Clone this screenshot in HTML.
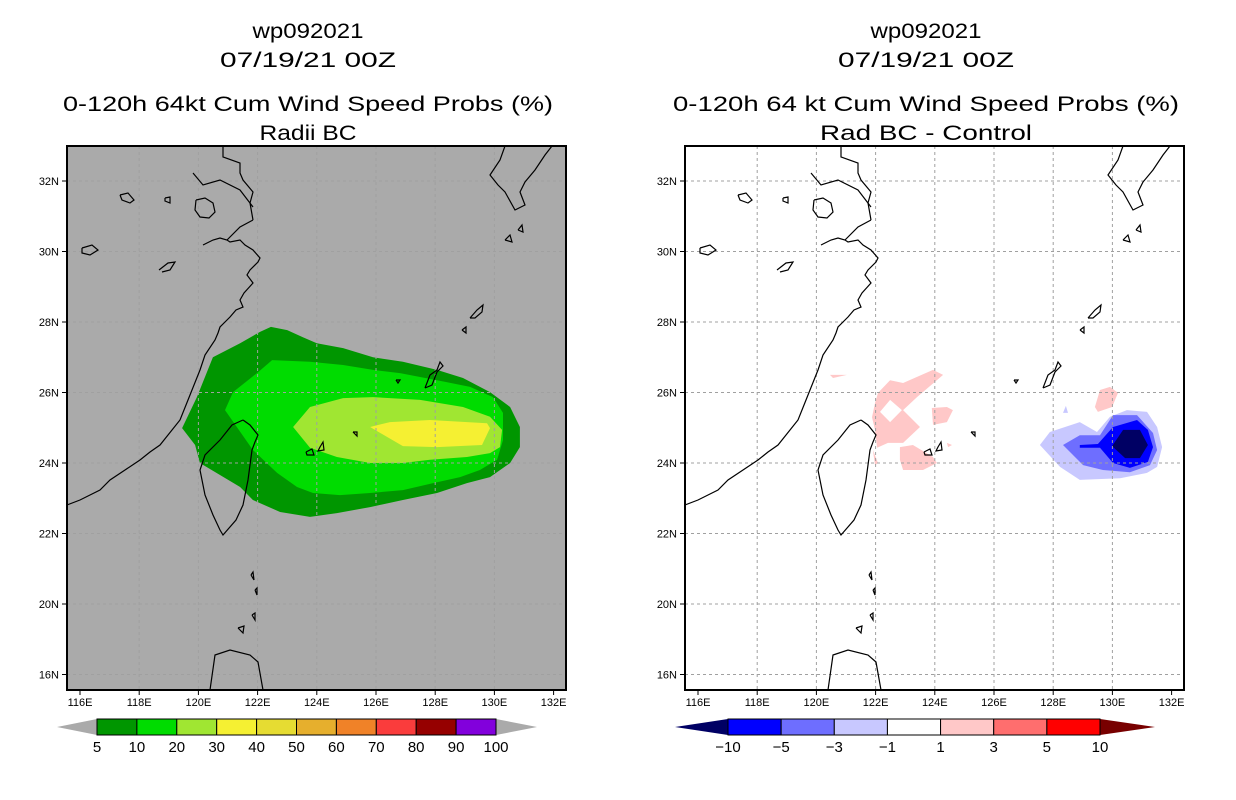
<!DOCTYPE html>
<html><head><meta charset="utf-8"><style>
html,body{margin:0;padding:0;background:#fff;}
svg{display:block;}
text{font-family:"Liberation Sans",sans-serif;}
</style></head><body>
<svg id="chart" width="1236" height="800" viewBox="0 0 1236 800" xmlns="http://www.w3.org/2000/svg">
<rect width="1236" height="800" fill="#fff"/>
<defs>
<clipPath id="clipL"><rect x="67" y="146" width="499" height="544"/></clipPath>
<clipPath id="clipR"><rect x="685" y="146" width="499" height="544"/></clipPath>
<g id="coast" fill="none" stroke="#000" stroke-width="1.2">
<polyline points="67,505 80,500 90,495 100,490 110,480 125,470 140,460 150,452 160,445 172,430 180,420 186,405 190,395 196,380 200,370 205,355 215,340 218,333 220,327 225,322 230,317 236,310 243,307 240,300 244,293 253,283 247,275 250,270 258,262 260,258 253,250 245,245 240,240 230,242 227,240 220,238 213,240 203,245"/>
<polyline points="253,220 240,227 227,240"/>
<polyline points="253,220 250,203 253,192 243,180 240,173 240,163 223,157 223,147"/>
<polyline points="193,173 203,185 220,180 240,190 253,207"/>
<polyline points="196,200 205,198 213,203 215,212 209,218 200,217 195,210 196,200"/>
<polyline points="120,195 128,193 134,200 130,203 122,200 120,195"/>
<polyline points="165,198 170,197 170,203 165,201 165,198"/>
<polyline points="82,248 92,245 98,250 90,255 82,253 82,248"/>
<polyline points="159,270 168,263 175,262 170,270 162,272"/>
<polyline points="243,420 250,425 258,435 255,442 252,450 248,480 243,505 236,520 223,535 220,530 213,515 205,495 200,470 205,455 220,440 232,425 243,420"/>
<polyline points="425,388 430,375 437,370 440,362 443,366 437,372 432,385 425,388"/>
<polyline points="470,318 477,310 483,305 482,312 475,318 470,318"/>
<polyline points="462,330 466,327 466,333 462,330"/>
<polyline points="396,380 400,380 398,383 396,380"/>
<polyline points="353,432 357,432 357,436 353,432"/>
<polyline points="306,452 312,449 314,455 307,455 306,452"/>
<polyline points="320,447 323,442 324,450 318,451 320,447"/>
<polyline points="505,146 500,160 490,175 498,185 505,192 515,210 525,205 520,192 525,182 535,170 545,155 552,146"/>
<polyline points="505,240 510,235 512,242 505,240"/>
<polyline points="518,230 522,225 523,232 518,230"/>
<polyline points="210,690 215,655 230,650 250,655 258,662 263,690"/>
<polyline points="238,628 244,626 243,633 238,628"/>
<polyline points="252,615 255,613 255,620 252,615"/>
<polyline points="251,575 253,572 254,580 251,575"/>
<polyline points="255,590 257,588 257,595 255,590"/>
</g>
</defs>
<g id="titles" font-size="21" text-anchor="middle" fill="#000" lengthAdjust="spacingAndGlyphs">
<text x="308" y="38" textLength="111" lengthAdjust="spacingAndGlyphs">wp092021</text>
<text x="308" y="67" textLength="176" lengthAdjust="spacingAndGlyphs">07/19/21 00Z</text>
<text x="308" y="111" textLength="490" lengthAdjust="spacingAndGlyphs">0-120h 64kt Cum Wind Speed Probs (%)</text>
<text x="308" y="140" textLength="97" lengthAdjust="spacingAndGlyphs">Radii BC</text>
<text x="926" y="38" textLength="111" lengthAdjust="spacingAndGlyphs">wp092021</text>
<text x="926" y="67" textLength="176" lengthAdjust="spacingAndGlyphs">07/19/21 00Z</text>
<text x="926" y="111" textLength="506" lengthAdjust="spacingAndGlyphs">0-120h 64 kt Cum Wind Speed Probs (%)</text>
<text x="926" y="140" textLength="212" lengthAdjust="spacingAndGlyphs">Rad BC - Control</text>
</g>
<g id="left-panel"></g>
<g id="right-panel"></g>
<g id="cbars"></g>
</svg>
<script>
const leftLevels = ["5", "10", "20", "30", "40", "50", "60", "70", "80", "90", "100"];
const leftColors = ["#009600","#00dc00","#a0e632","#f5f032","#e6dc32","#e6af2d","#f08228","#fa3c3c","#960000","#8200dc"];
const prob05Lon = [122.45,123.0,123.53,124.0,124.89,125.9,126.91,128.06,128.94,129.85,130.53,130.86,130.86,130.53,129.85,129.07,128.06,126.91,125.8,124.68,123.77,122.76,121.84,121.41,120.05,119.89,119.45,119.95,120.49,121.41,122.08];
const prob05Lat = [27.86,27.77,27.57,27.40,27.26,27.0,26.87,26.64,26.41,26.01,25.59,25.02,24.45,24.0,23.6,23.43,23.15,22.95,22.75,22.58,22.47,22.61,22.95,23.32,24.0,24.51,24.99,25.87,27.0,27.40,27.72];
const prob10Lon = [122.49,123.77,124.89,125.9,126.81,128.06,129.18,129.95,130.29,130.29,130.09,129.51,128.84,127.93,126.91,125.8,124.78,123.87,123.33,122.66,121.84,120.9,121.17,121.98];
const prob10Lat = [26.92,26.87,26.78,26.64,26.55,26.35,26.16,25.87,25.42,24.65,24.09,23.8,23.6,23.43,23.23,23.15,23.09,23.15,23.32,23.72,24.37,25.5,26.01,26.55];
const prob20Lon = [123.2,123.77,124.89,125.9,127.49,128.94,129.85,130.26,130.19,129.85,129.07,127.82,126.91,125.8,124.68,123.77];
const prob20Lat = [25.02,25.59,25.84,25.87,25.79,25.59,25.31,24.94,24.45,24.28,24.17,24.09,24.0,24.0,24.17,24.43];
const prob30Lon = [125.8,126.47,127.82,129.75,129.85,129.58,128.06,126.91,126.37];
const prob30Lat = [25.02,25.16,25.22,25.13,24.99,24.51,24.45,24.48,24.74];

const diffLevels = ["-10","-5","-3","-1","1","3","5","10"];
const diffColors = ["#000064","#0000ff","#6e6eff","#c8c8ff","#ffffff","#ffc8c8","#ff6e6e","#ff0000","#780000"];
const neg1Lon = [127.55,127.89,128.9,129.48,129.92,130.49,131.17,131.51,131.68,131.51,131.17,130.26,128.9,128.23];
const neg1Lat = [24.51,24.88,25.16,24.88,25.31,25.5,25.45,25.02,24.45,23.89,23.72,23.57,23.52,23.89];
const neg1bLon = [128.33,128.43,128.5];
const neg1bLat = [25.42,25.62,25.42];
const neg3Lon = [128.33,128.9,129.58,130.02,130.83,131.37,131.51,131.27,130.59,129.68,129.01];
const neg3Lat = [24.51,24.79,24.79,25.36,25.36,24.85,24.37,23.94,23.74,23.8,23.94];
const neg5Lon = [128.9,129.51,130.02,130.83,131.2,131.37,131.2,130.59,130.02,129.58,128.9];
const neg5Lat = [24.51,24.54,25.02,25.22,24.94,24.45,24.03,23.86,24.0,24.43,24.43];
const neg10Lon = [129.99,130.36,130.93,131.2,130.93,130.43];
const neg10Lat = [24.48,24.94,24.94,24.51,24.14,24.14];
const pos1aLon = [129.41,129.58,129.92,130.19,129.99,129.51];
const pos1aLat = [25.59,26.07,26.16,25.99,25.59,25.45];
const pos1bLon = [122.08,122.49,122.93,123.94,124.28,123.4,122.93,123.5,122.93,122.42,122.05,121.98,121.88,121.98];
const pos1bLat = [25.99,26.35,26.27,26.64,26.5,25.87,25.5,25.02,24.57,24.57,24.43,24.94,25.3,25.7];
const hole1Lon = [122.15,122.49,122.89,122.49];
const hole1Lat = [25.45,25.79,25.5,25.16];
const pos1cLon = [122.82,123.26,123.94,124.07,123.6,122.93,122.82];
const pos1cLat = [24.45,24.51,24.17,24.0,23.8,23.8,24.09];
const pos1dLon = [123.9,124.41,124.61,124.41,123.94];
const pos1dLat = [25.56,25.59,25.5,25.16,25.08];
const pos1eLon = [124.41,124.58,124.45];
const pos1eLat = [24.57,24.51,24.45];
const pos1fLon = [120.46,121.03,120.56];
const pos1fLat = [26.5,26.5,26.41];
const pos1gLon = [121.91,122.08,121.98];
const pos1gLat = [24.37,24.0,23.94];

const lonTicks = [116,118,120,122,124,126,128,130,132];
const latTicks = [32,30,28,26,24,22,20,18];
const latTickLabels = ["32N","30N","28N","26N","24N","22N","20N","16N"];

const NS="http://www.w3.org/2000/svg";
function xScale(lon, off){ return off + 80 + (lon-116)*29.6; }
function yScale(lat){ return 181 + (32-lat)*35.25; }
function mk(tag, attrs, parent){ const e=document.createElementNS(NS,tag); for(const k in attrs) e.setAttribute(k,attrs[k]); parent.appendChild(e); return e; }
function poly(parent, lons, lats, off, fill, name){
  const pts = lons.map((l,i)=>xScale(l,off).toFixed(1)+","+yScale(lats[i]).toFixed(1)).join(" ");
  const p = mk("polygon",{points:pts,fill:fill,stroke:"none"},parent);
  
  
  return p;
}
function panel(g, off, bg, clip){
  const inner = mk("g",{"clip-path":"url(#"+clip+")"},g);
  mk("rect",{x:off+67,y:146,width:499,height:544,fill:bg},inner);
  return inner;
}
function gridAndAxes(g, inner, off){
  const grid = mk("g",{stroke:"#a0a0a0","stroke-width":1,"stroke-dasharray":"3,3"},inner);
  lonTicks.forEach(l=>{ if(l>116&&l<132){ const x=xScale(l,off); mk("line",{x1:x,x2:x,y1:146,y2:690},grid);} });
  latTicks.forEach(l=>{ const y=yScale(l); mk("line",{x1:off+67,x2:off+566,y1:y,y2:y},grid); });
  mk("use",{href:"#coast",transform:"translate("+off+",0)"},inner);
  const fr = mk("rect",{x:off+67,y:146,width:499,height:544,fill:"none",stroke:"#000","stroke-width":2},g);
  
  
  lonTicks.forEach(l=>{
    const x=xScale(l,off);
    mk("line",{x1:x,x2:x,y1:690,y2:695,stroke:"#000"},g);
    const t=mk("text",{x:x,y:706,"font-size":11,"text-anchor":"middle"},g);
    t.textContent=l+"E";
    
    
  });
  latTicks.forEach((l,i)=>{
    const y=yScale(l);
    mk("line",{x1:off+62,x2:off+67,y1:y,y2:y,stroke:"#000"},g);
    const t=mk("text",{x:off+59,y:y+4,"font-size":11,"text-anchor":"end"},g);
    t.textContent=latTickLabels[i];
    
    
  });
}
const gL=document.getElementById("left-panel");
const iL=panel(gL,0,"#aaaaaa","clipL");
poly(iL,prob05Lon,prob05Lat,0,leftColors[0],"prob-5-contour");
poly(iL,prob10Lon,prob10Lat,0,leftColors[1],"prob-10-contour");
poly(iL,prob20Lon,prob20Lat,0,leftColors[2],"prob-20-contour");
poly(iL,prob30Lon,prob30Lat,0,leftColors[3],"prob-30-contour");
gridAndAxes(gL,iL,0);
const gR=document.getElementById("right-panel");
const iR=panel(gR,618,"#ffffff","clipR");
poly(iR,neg1Lon,neg1Lat,618,diffColors[3],"diff-minus1-contour");
poly(iR,neg1bLon,neg1bLat,618,diffColors[3],"diff-minus1-speck");
poly(iR,neg3Lon,neg3Lat,618,diffColors[2],"diff-minus3-contour");
poly(iR,neg5Lon,neg5Lat,618,diffColors[1],"diff-minus5-contour");
poly(iR,neg10Lon,neg10Lat,618,diffColors[0],"diff-minus10-contour");
poly(iR,pos1aLon,pos1aLat,618,diffColors[5],"diff-plus1-east");
poly(iR,pos1bLon,pos1bLat,618,diffColors[5],"diff-plus1-west");
poly(iR,hole1Lon,hole1Lat,618,"#ffffff","diff-plus1-hole");
poly(iR,pos1cLon,pos1cLat,618,diffColors[5],"diff-plus1-south");
poly(iR,pos1dLon,pos1dLat,618,diffColors[5],"diff-plus1-mid");
poly(iR,pos1eLon,pos1eLat,618,diffColors[5],"diff-plus1-speck");
poly(iR,pos1fLon,pos1fLat,618,diffColors[5],"diff-plus1-streak");
poly(iR,pos1gLon,pos1gLat,618,diffColors[5],"diff-plus1-thin");
gridAndAxes(gR,iR,618);
const cb=document.getElementById("cbars");
function colorbar(name, x0, x1, tipL, tipR, colors, labels, triL, triR){
  const g=mk("g",{},cb);
  
  
  const nb=colors.length;
  const w=(x1-x0)/nb;
  mk("polygon",{points:`${tipL},727 ${x0},719 ${x0},735`,fill:triL,stroke:"none"},g);
  mk("polygon",{points:`${tipR},727 ${x1},719 ${x1},735`,fill:triR,stroke:"none"},g);
  colors.forEach((c,i)=>{
    const r=mk("rect",{x:x0+i*w,y:719,width:w,height:16,fill:c,stroke:"#000","stroke-width":1},g);
    
    
  });
  labels.forEach((l,i)=>{
    const t=mk("text",{x:x0+i*w,y:752,"font-size":15,"text-anchor":"middle"},g);
    t.textContent=l.replace("-","\u2212");
    
    
  });
}
colorbar("left-colorbar",97,496,57,537,leftColors,leftLevels,"#aaaaaa","#aaaaaa");
colorbar("right-colorbar",728,1100,675,1155,diffColors.slice(1,8),diffLevels,diffColors[0],diffColors[8]);
</script>
</body></html>
